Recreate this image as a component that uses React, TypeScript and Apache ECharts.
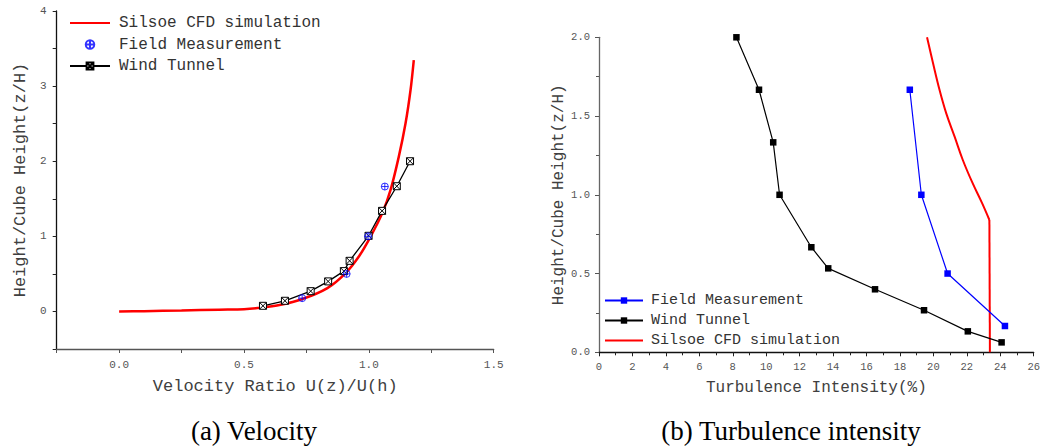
import React, { useEffect, useRef } from "react";
import * as echarts from "echarts";

// ---------- (a) Velocity ----------
const velCfdU = [0, 0.1, 0.25, 0.4, 0.5, 0.554, 0.647, 0.734, 0.834, 0.907, 0.96, 1.007, 1.054, 1.087, 1.12, 1.147, 1.167, 1.18];
const velCfdZ = [0, 0.004, 0.013, 0.024, 0.03, 0.045, 0.089, 0.165, 0.311, 0.511, 0.731, 0.997, 1.309, 1.618, 2.061, 2.505, 2.948, 3.347];
const velFieldU = [0.733, 0.911, 0.997, 1.064];
const velFieldZ = [0.177, 0.5, 1.0, 1.663];
const velTunnelU = [0.576, 0.664, 0.767, 0.837, 0.9, 0.923, 0.999, 1.053, 1.112, 1.165];
const velTunnelZ = [0.075, 0.142, 0.27, 0.4, 0.537, 0.674, 1.007, 1.339, 1.667, 2.0];

// ---------- (b) Turbulence intensity ----------
const tiFieldI = [18.59, 19.28, 20.85, 24.28];
const tiFieldZ = [1.667, 1.0, 0.5, 0.167];
const tiTunnelI = [8.22, 9.57, 10.42, 10.8, 12.7, 13.71, 16.51, 19.44, 22.06, 24.08];
const tiTunnelZ = [2.0, 1.667, 1.333, 1.0, 0.667, 0.533, 0.4, 0.267, 0.133, 0.063];
// curved upper part of the CFD profile
const tiCfdI = [19.62, 19.98, 20.37, 20.77, 21.27, 21.76, 22.32, 22.9, 23.35];
const tiCfdZ = [2.0, 1.835, 1.665, 1.517, 1.369, 1.221, 1.08, 0.95, 0.84];
// straight lower part of the CFD profile
const tiCfdLowI = [23.35, 23.38];
const tiCfdLowZ = [0.84, 0];

const captionA = "(a) Velocity";
const captionB = "(b) Turbulence intensity";

const zip = (a: number[], b: number[]) => a.map((v, i) => [v, b[i]]);

const MONO = "Liberation Mono, DejaVu Sans Mono, monospace";
const SERIF = "Liberation Serif, Times New Roman, serif";

const SQUARE_X = "path://M0,0L10,0L10,10L0,10Z M0,0L10,10 M10,0L0,10";
const CIRCLE_PLUS = "path://M0,5A5,5,0,1,1,10,5A5,5,0,1,1,0,5Z M0,5L10,5 M5,0L5,10";
const HIDDEN = { color: "rgba(0,0,0,0)", borderColor: "rgba(0,0,0,0)", borderWidth: 0 };

export default function App() {
  const ref = useRef<HTMLDivElement>(null);
  useEffect(() => {
    if (!ref.current) return;
    const chart = echarts.init(ref.current, undefined, { renderer: "svg" });
    const strip = (n: string) => n.replace(/^b:/, "");
    chart.setOption({
      animation: false,
      backgroundColor: "#ffffff",
      grid: [
        { left: 56.7, top: 11, width: 437, height: 338 },
        { left: 599, top: 37.3, width: 437.3, height: 315 },
      ],
      legend: [
        {
          orient: "vertical",
          left: 64,
          top: 10,
          itemWidth: 40,
          itemHeight: 8.5,
          itemGap: 5.5,
          data: [
            { name: "Silsoe CFD simulation", itemStyle: HIDDEN },
            "Field Measurement",
            "Wind Tunnel",
          ],
          textStyle: { fontFamily: MONO, fontSize: 16, color: "#333", lineHeight: 16, padding: [0, 0, 0, 4] },
        },
        {
          orient: "vertical",
          left: 599,
          top: 288,
          itemWidth: 38,
          itemHeight: 8,
          itemGap: 5,
          data: [
            "b:Field Measurement",
            "b:Wind Tunnel",
            { name: "b:Silsoe CFD simulation", itemStyle: HIDDEN },
          ],
          formatter: strip,
          textStyle: { fontFamily: MONO, fontSize: 15, color: "#333", lineHeight: 15, padding: [0, 0, 0, 3] },
        },
      ],
      xAxis: [
        {
          type: "value",
          gridIndex: 0,
          min: -0.25,
          max: 1.5,
          interval: 0.25,
          splitLine: { show: false },
          axisLine: { onZero: false, lineStyle: { color: "#555", width: 1.3 } },
          axisTick: { lineStyle: { color: "#555" }, length: 4 },
          axisLabel: {
            fontFamily: MONO,
            fontSize: 11,
            color: "#555",
            margin: 10,
            formatter: (v: number) =>
              v >= 0 && Math.abs(v * 2 - Math.round(v * 2)) < 1e-9 ? v.toFixed(1) : "",
          },
          name: "Velocity Ratio U(z)/U(h)",
          nameLocation: "middle",
          nameGap: 29,
          nameTextStyle: { fontFamily: MONO, fontSize: 17, color: "#404040" },
        },
        {
          type: "value",
          gridIndex: 1,
          min: 0,
          max: 26,
          interval: 2,
          splitLine: { show: false },
          axisLine: { onZero: false, lineStyle: { color: "#111", width: 1.3 } },
          axisTick: { lineStyle: { color: "#222" }, length: 4 },
          minorTick: { show: true, splitNumber: 2, length: 3, lineStyle: { color: "#222" } },
          axisLabel: { fontFamily: MONO, fontSize: 10.5, color: "#555", margin: 9 },
          name: "Turbulence Intensity(%)",
          nameLocation: "middle",
          nameGap: 28,
          nameTextStyle: { fontFamily: MONO, fontSize: 16, color: "#404040" },
        },
      ],
      yAxis: [
        {
          type: "value",
          gridIndex: 0,
          min: -0.5,
          max: 4,
          interval: 0.5,
          splitLine: { show: false },
          axisLine: { onZero: false, lineStyle: { color: "#111", width: 1.3 } },
          axisTick: { lineStyle: { color: "#222" }, length: 4 },
          axisLabel: {
            fontFamily: MONO,
            fontSize: 11,
            color: "#555",
            margin: 10,
            formatter: (v: number) => (v >= 0 && Number.isInteger(v) ? String(v) : ""),
          },
          name: "Height/Cube Height(z/H)",
          nameLocation: "middle",
          nameGap: 28,
          nameTextStyle: { fontFamily: MONO, fontSize: 17, color: "#404040" },
        },
        {
          type: "value",
          gridIndex: 1,
          min: 0,
          max: 2,
          interval: 0.5,
          splitLine: { show: false },
          axisLine: { onZero: false, lineStyle: { color: "#666", width: 1.3 } },
          axisTick: { lineStyle: { color: "#555" }, length: 4 },
          minorTick: { show: true, splitNumber: 2, length: 3, lineStyle: { color: "#555" } },
          axisLabel: {
            fontFamily: MONO,
            fontSize: 10.5,
            color: "#555",
            margin: 9,
            formatter: (v: number) => v.toFixed(1),
          },
          name: "Height/Cube Height(z/H)",
          nameLocation: "middle",
          nameGap: 31,
          nameTextStyle: { fontFamily: MONO, fontSize: 16, color: "#404040" },
        },
      ],
      series: [
        {
          name: "Silsoe CFD simulation",
          type: "line",
          xAxisIndex: 0,
          yAxisIndex: 0,
          data: zip(velCfdU, velCfdZ),
          smooth: 0.3,
          symbol: "none",
          lineStyle: { color: "#ff0000", width: 2.5 },
          itemStyle: { color: "#ff0000" },
          z: 2,
        },
        {
          name: "Wind Tunnel",
          type: "line",
          xAxisIndex: 0,
          yAxisIndex: 0,
          data: zip(velTunnelU, velTunnelZ),
          symbol: SQUARE_X,
          symbolSize: 7,
          lineStyle: { color: "#000", width: 1.3 },
          itemStyle: { color: "#ffffff", borderColor: "#000", borderWidth: 1 },
          z: 3,
        },
        {
          name: "Field Measurement",
          type: "scatter",
          xAxisIndex: 0,
          yAxisIndex: 0,
          data: zip(velFieldU, velFieldZ),
          symbol: CIRCLE_PLUS,
          symbolSize: 7,
          itemStyle: { color: "rgba(0,0,0,0)", borderColor: "#0000ff", borderWidth: 1 },
          z: 4,
        },
        {
          name: "b:Field Measurement",
          type: "line",
          xAxisIndex: 1,
          yAxisIndex: 1,
          data: zip(tiFieldI, tiFieldZ),
          symbol: "rect",
          symbolSize: 6.5,
          lineStyle: { color: "#0000ff", width: 1.2 },
          itemStyle: { color: "#0000ff" },
          z: 3,
        },
        {
          name: "b:Wind Tunnel",
          type: "line",
          xAxisIndex: 1,
          yAxisIndex: 1,
          data: zip(tiTunnelI, tiTunnelZ),
          symbol: "rect",
          symbolSize: 6.5,
          lineStyle: { color: "#000000", width: 1.2 },
          itemStyle: { color: "#000000" },
          z: 3,
        },
        {
          name: "b:Silsoe CFD simulation",
          type: "line",
          xAxisIndex: 1,
          yAxisIndex: 1,
          data: zip(tiCfdI, tiCfdZ),
          smooth: 0.4,
          symbol: "none",
          lineStyle: { color: "#ff0000", width: 2 },
          itemStyle: { color: "#ff0000" },
          z: 2,
        },
        {
          name: "b:Silsoe CFD simulation",
          type: "line",
          xAxisIndex: 1,
          yAxisIndex: 1,
          data: zip(tiCfdLowI, tiCfdLowZ),
          symbol: "none",
          lineStyle: { color: "#ff0000", width: 2 },
          itemStyle: { color: "#ff0000" },
          z: 2,
        },
      ],
      graphic: [
        {
          type: "text",
          x: 254,
          y: 431,
          style: {
            text: captionA,
            fontFamily: SERIF,
            fontSize: 27,
            fill: "#000",
            align: "center",
            verticalAlign: "middle",
          },
        },
        {
          type: "text",
          x: 791,
          y: 431,
          style: {
            text: captionB,
            fontFamily: SERIF,
            fontSize: 27,
            fill: "#000",
            align: "center",
            verticalAlign: "middle",
          },
        },
      ],
    });
    return () => chart.dispose();
  }, []);
  return (
    <div
      ref={ref}
      style={{ position: "fixed", left: 0, top: 0, width: 1043, height: 446, background: "#fff" }}
    />
  );
}
